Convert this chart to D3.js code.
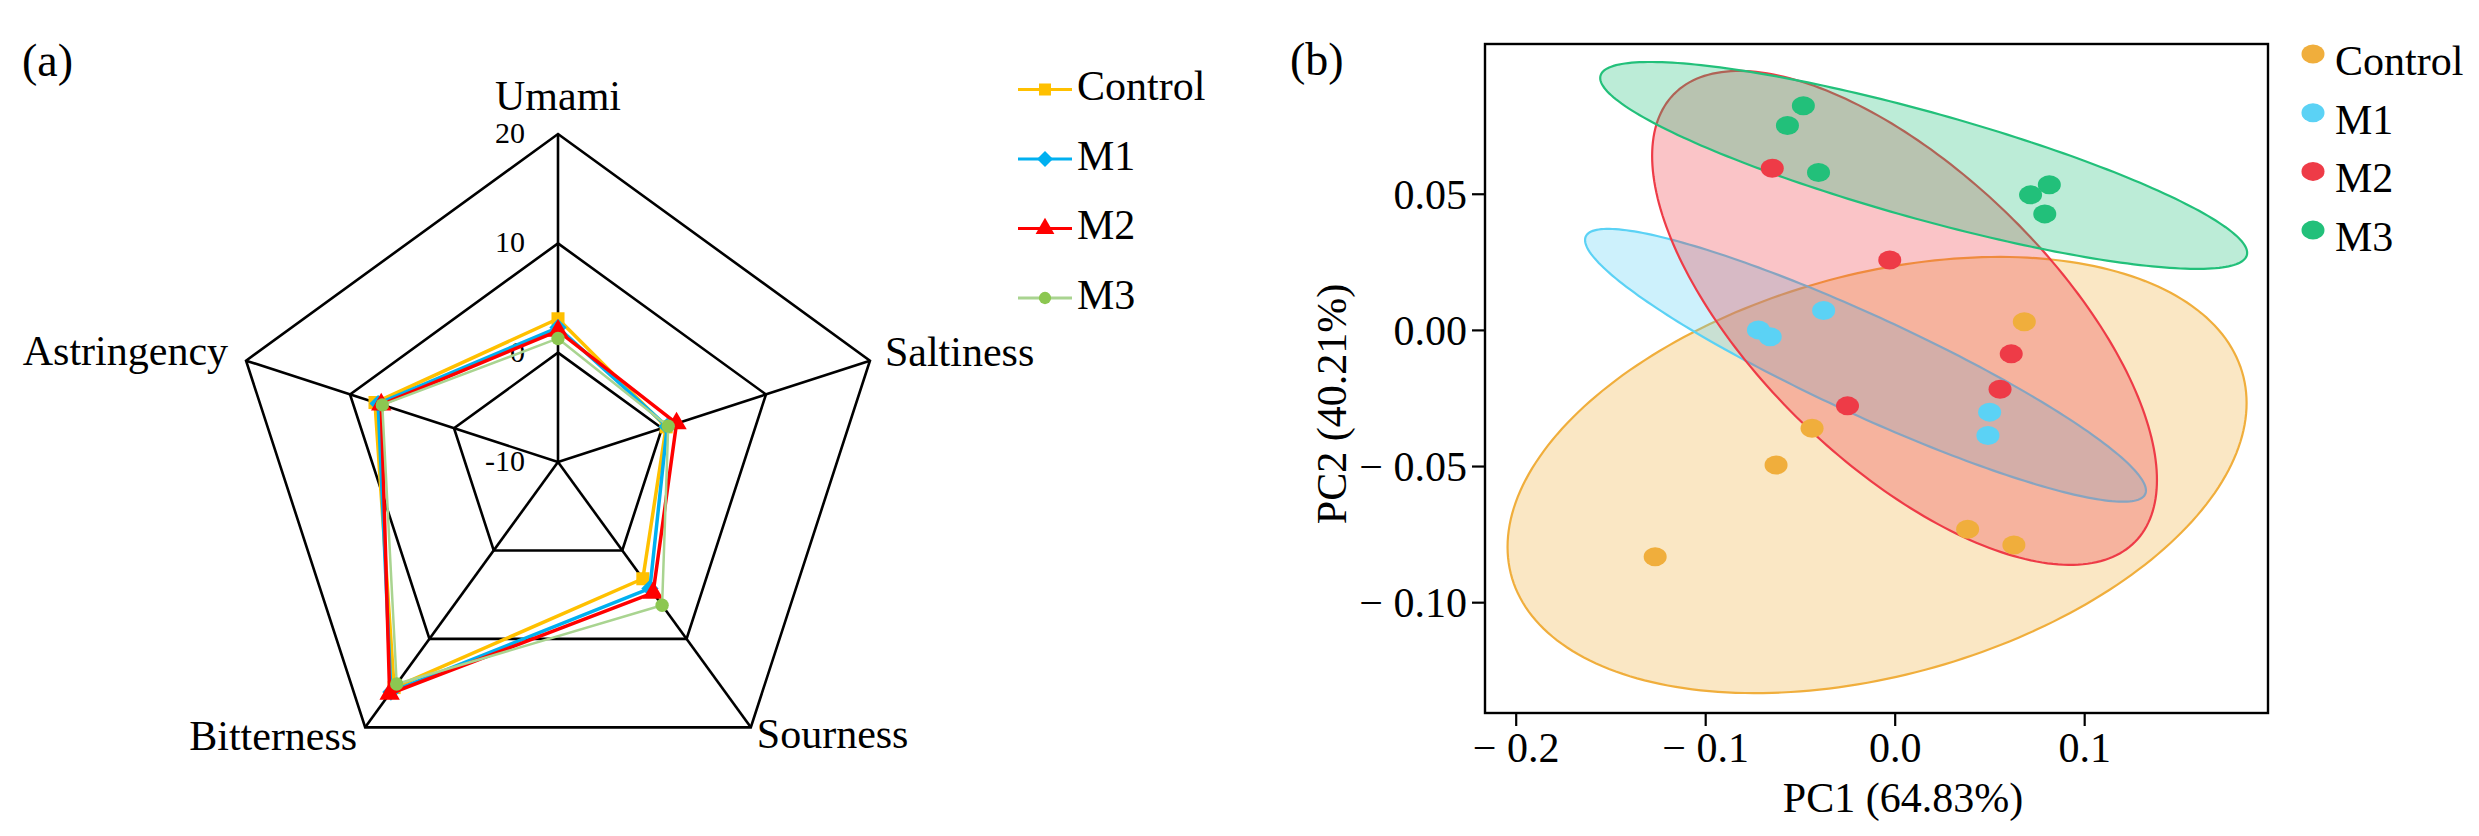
<!DOCTYPE html>
<html>
<head>
<meta charset="utf-8">
<script src="https://cdn.jsdelivr.net/npm/d3@7"></script>
<style>
  html, body { margin: 0; padding: 0; background: #fff; }
  svg { display: block; }
  text { font-family: "Liberation Serif", "Times New Roman", serif; fill: #000; }
</style>
</head>
<body>
<svg id="chart" width="2479" height="836"></svg>
<script>
// ---------------- Data: panel (a) radar ----------------
const radarAxes = ["Umami", "Saltiness", "Sourness", "Bitterness", "Astringency"];
const radarTicks = [-10, 0, 10, 20];
const radarRings = [0, 10, 20];
const radarGroups = ["Control", "M1", "M2", "M3"];
const controlTaste = [3.1, 0.4, 3.2, 15.5, 7.6];
const m1Taste      = [2.3, 0.5, 4.3, 16.0, 7.3];
const m2Taste      = [2.0, 1.4, 4.8, 16.2, 7.0];
const m3Taste      = [1.3, 0.6, 6.2, 15.1, 6.9];

// ---------------- Data: panel (b) PCA ----------------
const pcaGroups = ["Control", "M1", "M2", "M3"];
const controlPC1 = [0.0684, -0.0436, -0.0626, -0.1264, 0.0385, 0.0629];
const controlPC2 = [0.0030, -0.0361, -0.0496, -0.0833, -0.0732, -0.0790];
const m1PC1 = [-0.0719, -0.0657, -0.0375, 0.0501, 0.0492];
const m1PC2 = [0.0000, -0.0025, 0.0071, -0.0302, -0.0388];
const m2PC1 = [-0.0646, -0.0026, 0.0615, 0.0556, -0.0249];
const m2PC2 = [0.0594, 0.0257, -0.0088, -0.0218, -0.0279];
const m3PC1 = [-0.0482, -0.0566, -0.0402, 0.0816, 0.0717, 0.0792];
const m3PC2 = [0.0823, 0.0751, 0.0578, 0.0533, 0.0496, 0.0426];
// confidence ellipses (data units): centre, half-extent in x / y, correlation
const ellipseCX = [-0.0093, -0.0154, 0.0052, 0.0153];
const ellipseCY = [-0.0533, -0.0130, 0.0044, 0.0604];
const ellipseHX = [0.195, 0.148, 0.1332, 0.1707];
const ellipseHY = [0.0801, 0.0501, 0.0907, 0.0380];
const ellipseR  = [0.330, -0.918, -0.656, -0.845];
const pcaXTicks = [-0.2, -0.1, 0.0, 0.1];
const pcaYTicks = [0.05, 0.00, -0.05, -0.10];
const pcaXTitle = "PC1 (64.83%)";
const pcaYTitle = "PC2 (40.21%)";

// ---------------- Drawing ----------------
const svg = d3.select("#chart");

// ===== Panel (a) =====
const radarStyle = {
  Control: { line: "#FFC000", mark: "#FFC000", sym: d3.symbolSquare, size: 170, rot: 0, w: 3.5 },
  M1:      { line: "#00B0F0", mark: "#00B0F0", sym: d3.symbolSquare, size: 150, rot: 45, w: 3.5 },
  M2:      { line: "#FF0000", mark: "#FF0000", sym: d3.symbolTriangle, size: 180, rot: 0, w: 3.5 },
  M3:      { line: "#A9D490", mark: "#8CC751", sym: d3.symbolCircle, size: 140, rot: 0, w: 2.5 }
};
const radarValues = { Control: controlTaste, M1: m1Taste, M2: m2Taste, M3: m3Taste };

const rcx = 558, rcy = 462, R = 328;
const rScale = d3.scaleLinear().domain([-10, 20]).range([0, R]);
const ang = i => i * 2 * Math.PI / radarAxes.length;
const pt = (i, v) => [rcx + rScale(v) * Math.sin(ang(i)), rcy - rScale(v) * Math.cos(ang(i))];

const gA = svg.append("g");
radarRings.forEach(v => {
  gA.append("polygon")
    .attr("points", radarAxes.map((_, i) => pt(i, v).join(",")).join(" "))
    .attr("fill", "none").attr("stroke", "#000").attr("stroke-width", 2.6)
    .attr("stroke-linejoin", "miter");
});
radarAxes.forEach((_, i) => {
  const p = pt(i, 20);
  gA.append("line").attr("x1", rcx).attr("y1", rcy).attr("x2", p[0]).attr("y2", p[1])
    .attr("stroke", "#000").attr("stroke-width", 2.6);
});
radarTicks.forEach(v => {
  gA.append("text").attr("x", rcx - 33).attr("y", rcy - rScale(v) + 9)
    .attr("text-anchor", "end").attr("font-size", 30).text(v);
});
const labelPos = [
  { dx: 0, dy: -24, anchor: "middle" },
  { dx: 15, dy: 5, anchor: "start" },
  { dx: 6, dy: 21, anchor: "start" },
  { dx: -8, dy: 23, anchor: "end" },
  { dx: -18, dy: 4, anchor: "end" }
];
radarAxes.forEach((a, i) => {
  const p = pt(i, 20);
  gA.append("text").attr("x", p[0] + labelPos[i].dx).attr("y", p[1] + labelPos[i].dy)
    .attr("text-anchor", labelPos[i].anchor).attr("font-size", 42).text(a);
});
const lineGen = d3.line().curve(d3.curveLinearClosed);
radarGroups.forEach(g => {
  const st = radarStyle[g];
  const pts = radarValues[g].map((v, i) => pt(i, v));
  gA.append("path").attr("d", lineGen(pts)).attr("fill", "none")
    .attr("stroke", st.line).attr("stroke-width", st.w).attr("stroke-linejoin", "round");
  pts.forEach(p => {
    gA.append("path").attr("d", d3.symbol().type(st.sym).size(st.size)())
      .attr("transform", `translate(${p[0]},${p[1]}) rotate(${st.rot})`).attr("fill", st.mark);
  });
});
const legA = svg.append("g");
radarGroups.forEach((g, k) => {
  const st = radarStyle[g];
  const yy = 89.5 + k * 69.5;
  legA.append("line").attr("x1", 1018).attr("x2", 1072).attr("y1", yy).attr("y2", yy)
    .attr("stroke", st.line).attr("stroke-width", 3.2);
  legA.append("path").attr("d", d3.symbol().type(st.sym).size(st.size * 0.85)())
    .attr("transform", `translate(1045,${yy}) rotate(${st.rot})`).attr("fill", st.mark);
  legA.append("text").attr("x", 1077).attr("y", yy + 10.5).attr("font-size", 42).text(g);
});
svg.append("text").attr("x", 22).attr("y", 76).attr("font-size", 46).text("(a)");

// ===== Panel (b) =====
const pcaColor = { Control: "#F0AE3C", M1: "#5BD2F5", M2: "#EE3B47", M3: "#22C07A" };
const pcaX = { Control: controlPC1, M1: m1PC1, M2: m2PC1, M3: m3PC1 };
const pcaY = { Control: controlPC2, M1: m1PC2, M2: m2PC2, M3: m3PC2 };

const pLeft = 1485, pRight = 2268, pTop = 44, pBottom = 713;
const xS = d3.scaleLinear().domain([-0.2162, 0.197]).range([pLeft, pRight]);
const yS = d3.scaleLinear().domain([-0.1407, 0.105]).range([pBottom, pTop]);

const gB = svg.append("g");
const fmtY = v => (v < -1e-9 ? "\u2212 " : "") + Math.abs(v).toFixed(2);
const fmtX = v => (v < -1e-9 ? "\u2212 " : "") + Math.abs(v).toFixed(1);

const ellLine = d3.line().curve(d3.curveLinearClosed);
pcaGroups.forEach((g, k) => {
  const N = 240, pts = [];
  const s = Math.sqrt(1 - ellipseR[k] * ellipseR[k]);
  for (let j = 0; j < N; j++) {
    const t = j / N * 2 * Math.PI;
    const ex = ellipseCX[k] + ellipseHX[k] * Math.cos(t);
    const ey = ellipseCY[k] + ellipseHY[k] * (ellipseR[k] * Math.cos(t) + s * Math.sin(t));
    pts.push([xS(ex), yS(ey)]);
  }
  gB.append("path").attr("d", ellLine(pts))
    .attr("fill", pcaColor[g]).attr("fill-opacity", 0.3)
    .attr("stroke", pcaColor[g]).attr("stroke-width", 2.2);
});
pcaGroups.forEach(g => {
  pcaX[g].forEach((v, i) => {
    gB.append("ellipse").attr("cx", xS(v)).attr("cy", yS(pcaY[g][i]))
      .attr("rx", 11.5).attr("ry", 9.5).attr("fill", pcaColor[g]);
  });
});
gB.append("rect").attr("x", pLeft).attr("y", pTop).attr("width", pRight - pLeft).attr("height", pBottom - pTop)
  .attr("fill", "none").attr("stroke", "#000").attr("stroke-width", 2.4);

const xAxis = d3.axisBottom(xS).tickValues(pcaXTicks).tickFormat(fmtX).tickSize(13).tickPadding(6);
const gx = gB.append("g").attr("transform", `translate(0,${pBottom})`).call(xAxis);
gx.select(".domain").remove();
gx.selectAll("line").attr("stroke", "#000").attr("stroke-width", 2.2);
gx.selectAll("text").attr("font-size", 42).attr("font-family", "Liberation Serif, serif")
  .attr("fill", "#000").attr("dy", "0.71em");

const yAxis = d3.axisLeft(yS).tickValues(pcaYTicks).tickFormat(fmtY).tickSize(13).tickPadding(5);
const gy = gB.append("g").attr("transform", `translate(${pLeft},0)`).call(yAxis);
gy.select(".domain").remove();
gy.selectAll("line").attr("stroke", "#000").attr("stroke-width", 2.2);
gy.selectAll("text").attr("font-size", 42).attr("font-family", "Liberation Serif, serif")
  .attr("fill", "#000").attr("dy", "0.34em");

gB.append("text").attr("x", 1903).attr("y", 812).attr("text-anchor", "middle")
  .attr("font-size", 42).text(pcaXTitle);
gB.append("text").attr("transform", "translate(1346,404) rotate(-90)")
  .attr("text-anchor", "middle").attr("font-size", 42).text(pcaYTitle);

pcaGroups.forEach((g, k) => {
  const yy = 54 + k * 58.7;
  gB.append("ellipse").attr("cx", 2313).attr("cy", yy).attr("rx", 11.5).attr("ry", 9.5)
    .attr("fill", pcaColor[g]);
  gB.append("text").attr("x", 2335).attr("y", yy + 21).attr("font-size", 42).text(g);
});
svg.append("text").attr("x", 1290).attr("y", 75).attr("font-size", 46).text("(b)");
</script>
</body>
</html>
